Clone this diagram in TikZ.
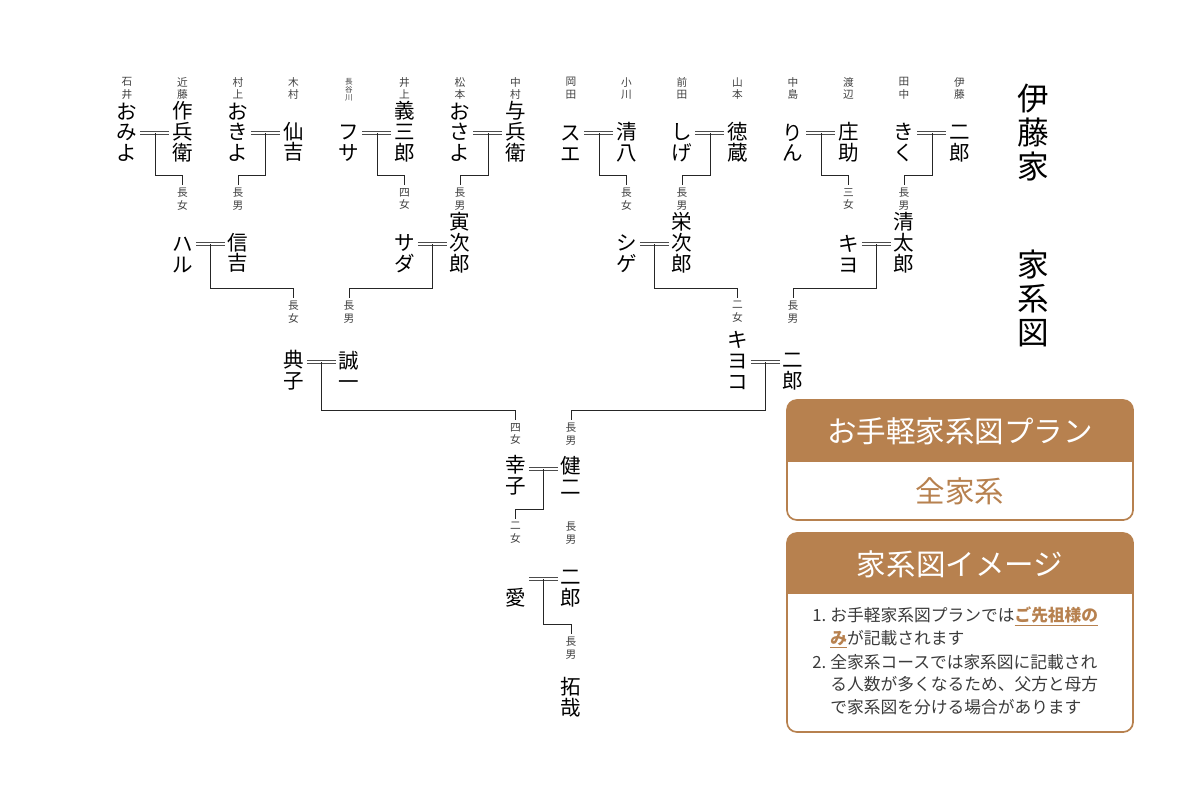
\documentclass[tikz,border=0pt]{standalone}
\usepackage{fontspec}
\setmainfont{Noto Sans CJK JP}
\usetikzlibrary{calc}

\definecolor{plancolor}{HTML}{B7814F}
\definecolor{notecolor}{HTML}{3A3A3A}
\newcommand\tightlines{\lineskiplimit=-20pt\relax}

\tikzset{
  person/.style={font=\fontsize{14.6}{14.8}\selectfont\tightlines,align=center,inner sep=0pt,anchor=south},
  kin/.style={font=\fontsize{7.6}{9}\selectfont\tightlines,align=center,inner sep=0pt,anchor=north,text=black!75},
  family/.style={kin},
  tinyfamily/.style={kin,font=\fontsize{5.4}{5.8}\selectfont\tightlines},
  tie/.style={line width=0.7pt,black!85},
  marry/.style={line width=0.6pt,draw=black!70,double=white,double distance=1.5pt},
  bigtitle/.style={font=\fontsize{22.5}{24.2}\selectfont\tightlines,align=center,inner sep=0pt},
  headtext/.style={font=\fontsize{21}{24}\selectfont,text=white,inner sep=0pt},
  frame/.style={draw=plancolor,line width=1.2pt,rounded corners=7pt}
}

\begin{document}
\begin{tikzpicture}[x=0.025cm,y=-0.025cm]
  \useasboundingbox (0,0) rectangle (1200,800);

  % first generation
  \node[person] (omiyo)    at (127,162)   {お\\み\\よ};
  \node[person] (sakubee)  at (182.5,162) {作\\兵\\衛};
  \node[person] (okiyo)    at (238,162)   {お\\き\\よ};
  \node[person] (senkichi) at (293.5,162) {仙\\吉};
  \node[person] (fusa)     at (349,162)   {フ\\サ};
  \node[person] (gisaburo) at (404.5,162) {義\\三\\郎};
  \node[person] (osayo)    at (460,162)   {お\\さ\\よ};
  \node[person] (yohee)    at (515.5,162) {与\\兵\\衛};
  \node[person] (sue)      at (571,162)   {ス\\エ};
  \node[person] (seihachi) at (626.5,162) {清\\八};
  \node[person] (shige)    at (682,162)   {し\\げ};
  \node[person] (tokuzo)   at (737.5,162) {徳\\蔵};
  \node[person] (rin)      at (793,162)   {り\\ん};
  \node[person] (shosuke)  at (848.5,162) {庄\\助};
  \node[person] (kiku)     at (904,162)   {き\\く};
  \node[person] (jiro)     at (959.5,162) {二\\郎};

  \node[family] (s1)  at (127,77)   {石\\井};
  \node[family] (s2)  at (182.5,77) {近\\藤};
  \node[family] (s3)  at (238,77)   {村\\上};
  \node[family] (s4)  at (293.5,77) {木\\村};
  \node[tinyfamily] (s5) at (349,78) {長\\谷\\川};
  \node[family] (s6)  at (404.5,77) {井\\上};
  \node[family] (s7)  at (460,77)   {松\\本};
  \node[family] (s8)  at (515.5,77) {中\\村};
  \node[family] (s9)  at (571,77)   {岡\\田};
  \node[family] (s10) at (626.5,77) {小\\川};
  \node[family] (s11) at (682,77)   {前\\田};
  \node[family] (s12) at (737.5,77) {山\\本};
  \node[family] (s13) at (793,77)   {中\\島};
  \node[family] (s14) at (848.5,77) {渡\\辺};
  \node[family] (s15) at (904,77)   {田\\中};
  \node[family] (s16) at (959.5,77) {伊\\藤};

  \node[kin] (r1) at (182.5,188) {長\\女};
  \node[kin] (r2) at (238,188)   {長\\男};
  \node[kin] (r3) at (404.5,188) {四\\女};
  \node[kin] (r4) at (460,188)   {長\\男};
  \node[kin] (r5) at (626.5,188) {長\\女};
  \node[kin] (r6) at (682,188)   {長\\男};
  \node[kin] (r7) at (848.5,188) {三\\女};
  \node[kin] (r8) at (904,188)   {長\\男};

  % second generation
  \node[person] (haru)      at (182.5,273) {ハ\\ル};
  \node[person] (nobukichi) at (238,273)   {信\\吉};
  \node[person] (sada)      at (404.5,273) {サ\\ダ};
  \node[person] (torajiro)  at (460,273)   {寅\\次\\郎};
  \node[person] (shige2)    at (626.5,273) {シ\\ゲ};
  \node[person] (eijiro)    at (682,273)   {栄\\次\\郎};
  \node[person] (kiyo)      at (848.5,273) {キ\\ヨ};
  \node[person] (seitaro)   at (904,273)   {清\\太\\郎};

  \node[kin] (r9)  at (293.5,301) {長\\女};
  \node[kin] (r10) at (349,301)   {長\\男};
  \node[kin] (r11) at (737.5,301) {二\\女};
  \node[kin] (r12) at (793,301)   {長\\男};

  % third generation
  \node[person] (noriko)  at (293.5,390) {典\\子};
  \node[person] (seiichi) at (349,390)   {誠\\一};
  \node[person] (kiyoko)  at (737.5,390) {キ\\ヨ\\コ};
  \node[person] (jiro2)   at (793,390)   {二\\郎};

  \node[kin] (r13) at (515.5,423) {四\\女};
  \node[kin] (r14) at (571,423)   {長\\男};

  % fourth generation and below
  \node[person] (sachiko) at (515.5,495) {幸\\子};
  \node[person] (kenji)   at (571,495)   {健\\二};
  \node[kin] (r15) at (515.5,522) {二\\女};
  \node[kin] (r16) at (571,522)   {長\\男};
  \node[person] (ai)      at (515.5,607) {愛};
  \node[person] (jiro3)   at (571,607)   {二\\郎};
  \node[kin] (r17) at (571,637) {長\\男};
  \node[person] (takuya)  at (571,717)   {拓\\哉};

  % couples
  \coordinate (m1)  at (155,133);
  \coordinate (m2)  at (265,133);
  \coordinate (m3)  at (377,133);
  \coordinate (m4)  at (488,133);
  \coordinate (m5)  at (599,133);
  \coordinate (m6)  at (710,133);
  \coordinate (m7)  at (821,133);
  \coordinate (m8)  at (932,133);
  \coordinate (m9)  at (210,244);
  \coordinate (m10) at (432,244);
  \coordinate (m11) at (654,244);
  \coordinate (m12) at (876,244);
  \coordinate (m13) at (321,362);
  \coordinate (m14) at (765,362);
  \coordinate (m15) at (543,469);
  \coordinate (m16) at (543,579);

  \foreach \w/\h/\m/\r in {omiyo/sakubee/m1/r1, okiyo/senkichi/m2/r2,
      fusa/gisaburo/m3/r3, osayo/yohee/m4/r4, sue/seihachi/m5/r5,
      shige/tokuzo/m6/r6, rin/shosuke/m7/r7, kiku/jiro/m8/r8,
      haru/nobukichi/m9/r9, sada/torajiro/m10/r10, shige2/eijiro/m11/r11,
      kiyo/seitaro/m12/r12, noriko/seiichi/m13/r13, kiyoko/jiro2/m14/r14,
      sachiko/kenji/m15/r15, ai/jiro3/m16/r17} {
    \draw[marry] ([xshift=2pt]\w.east |- \m) -- ([xshift=-2pt]\h.west |- \m);
    \draw[tie] (\m) |- ($(\r.north)+(0,-13)$) -- ($(\r.north)+(0,-3)$);
  }

  % title
  \node[bigtitle] (house) at (1033,133) {伊\\藤\\家};
  \node[bigtitle] (chart) at (1033,298) {家\\系\\図};

  % plan box
  \begin{scope}
    \clip[rounded corners=7pt] (787,400) rectangle (1133,520);
    \fill[plancolor] (787,400) rectangle (1133,462);
  \end{scope}
  \draw[frame] (787,400) rectangle (1133,520);
  \node[headtext] (planhead) at (960,431) {お手軽家系図プラン};
  \node[headtext,text=plancolor] (planbody) at (960,491) {全家系};

  % image box
  \begin{scope}
    \clip[rounded corners=7pt] (787,533) rectangle (1133,732);
    \fill[plancolor] (787,533) rectangle (1133,594);
  \end{scope}
  \draw[frame] (787,533) rectangle (1133,732);
  \node[headtext] (notehead) at (960,564) {家系図イメージ};
  \node[anchor=west,inner sep=0pt,text=notecolor,font=\fontsize{11.9}{16}\selectfont] (notes) at (812,663) {%
    \begin{tabular}{@{}r@{\hspace{3pt}}l@{}}
      1. & お手軽家系図プランでは\textcolor{plancolor}{\bfseries\underline{ご先祖様の}}\\
         & \textcolor{plancolor}{\bfseries\underline{み}}が記載されます\\[1pt]
      2. & 全家系コースでは家系図に記載され\\
         & る人数が多くなるため、父方と母方\\
         & で家系図を分ける場合があります
    \end{tabular}};
\end{tikzpicture}
\end{document}
